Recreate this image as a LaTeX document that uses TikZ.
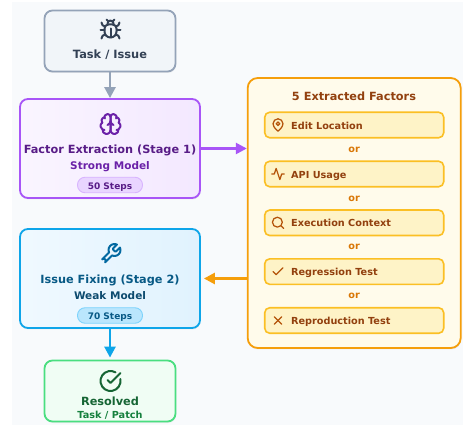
\documentclass[tikz,border=0pt]{standalone}
\usepackage{fontspec}
\setmainfont{DejaVu Sans}
\usetikzlibrary{arrows.meta,shadows,svg.path}
\definecolor{bgc}{HTML}{F8FAFC}
\definecolor{slateB}{HTML}{94A3B8}
\definecolor{slateT}{HTML}{334155}
\definecolor{slateF}{HTML}{F1F5F9}
\definecolor{purB}{HTML}{A855F7}
\definecolor{purT}{HTML}{581C87}
\definecolor{purS}{HTML}{6B21A8}
\definecolor{purA}{HTML}{FAF5FF}
\definecolor{purC}{HTML}{F3E8FF}
\definecolor{purP}{HTML}{E9D5FF}
\definecolor{purQ}{HTML}{D8B4FE}
\definecolor{bluB}{HTML}{0EA5E9}
\definecolor{bluT}{HTML}{075985}
\definecolor{bluS}{HTML}{0C4A6E}
\definecolor{bluI}{HTML}{0369A1}
\definecolor{bluA}{HTML}{F0F9FF}
\definecolor{bluC}{HTML}{E0F2FE}
\definecolor{bluP}{HTML}{BAE6FD}
\definecolor{bluQ}{HTML}{7DD3FC}
\definecolor{grnB}{HTML}{4ADE80}
\definecolor{grnT}{HTML}{166534}
\definecolor{grnS}{HTML}{15803D}
\definecolor{grnF}{HTML}{F0FDF4}
\definecolor{orgB}{HTML}{F59E0B}
\definecolor{orgI}{HTML}{FBBF24}
\definecolor{orgF}{HTML}{FFFBEB}
\definecolor{orgG}{HTML}{FEF3C7}
\definecolor{orgT}{HTML}{92400E}
\definecolor{orgK}{HTML}{B45309}
\definecolor{orgO}{HTML}{D97706}
\newcommand{\fs}[1]{\fontsize{#1}{#1}\selectfont\bfseries}
\newcommand{\icon}[5]{\begin{scope}[shift={(#1,#2)},scale=#3,yscale=-1,xshift=-12pt,yshift=-12pt,draw=#4,line cap=round,line join=round,line width=#3*2pt]#5\end{scope}}
\tikzset{
  x=1pt,y=-1pt,
  softshadow/.style={drop shadow={shadow xshift=0.5pt,shadow yshift=-1.5pt,opacity=0.06,fill=black}},
  card/.style={draw,line width=1.8pt,rounded corners=8pt,inner sep=0pt,softshadow},
  small card/.style={card,minimum width=131pt,minimum height=61pt},
  big card/.style={card,minimum width=180pt,minimum height=99pt},
  pill/.style={draw,line width=0.9pt,rounded corners=7.5pt,minimum width=65pt,minimum height=15.5pt,inner sep=0pt,font=\fs{9},text height=.88em,text depth=0pt},
  factor/.style={draw=orgI,fill=orgG,line width=1.6pt,rounded corners=5pt,minimum width=179pt,minimum height=25.5pt,inner sep=0pt},
  lbl/.style={inner sep=0pt,anchor=center,text height=.73em,text depth=0pt,yshift=-0.6pt},
  factorlabel/.style={lbl,anchor=west,font=\fs{9.7},text=orgT},
  orlabel/.style={inner sep=0pt,font=\fs{9.7},text=orgO,text height=.56em,text depth=0pt},
  conn/.style={line width=2.5pt,-{Triangle[length=11pt,width=11pt]}},
}
\begin{document}
\begin{tikzpicture}
\useasboundingbox (0,0) rectangle (463,427);
\fill[white] (0,0) rectangle (463,427);
\fill[bgc] (12,2.5) rectangle (463,425);

\node[small card,draw=slateB,fill=slateF] (task) at (110,41) {};
\node[big card,draw=purB,left color=purA,right color=purC] (stageone) at (110,148.5) {};
\node[big card,draw=bluB,left color=bluA,right color=bluC] (stagetwo) at (110,278.5) {};
\node[small card,draw=grnB,fill=grnF] (done) at (110,391) {};
\node[card,draw=orgB,fill=orgF,minimum width=213pt,minimum height=270pt,rounded corners=10pt] (panel) at (354.2,213) {};

\node[lbl,font=\fs{11.4},text=slateT] (tasktext) at (110,54.7) {Task / Issue};
\node[lbl,font=\fs{11.3},text=purT] (onetitle) at (110,149) {Factor Extraction (Stage 1)};
\node[lbl,font=\fs{10.5},text=purS] (onemodel) at (110,165) {Strong Model};
\node[pill,draw=purQ,fill=purP,text=purT] (onesteps) at (110,185) {50 Steps};
\node[lbl,font=\fs{11.3},text=bluT] (twotitle) at (110,279) {Issue Fixing (Stage 2)};
\node[lbl,font=\fs{10.5},text=bluS] (twomodel) at (110,295.3) {Weak Model};
\node[pill,draw=bluQ,fill=bluP,text=bluT] (twosteps) at (110,315.5) {70 Steps};
\node[lbl,font=\fs{11.3},text=grnT] (donetext) at (110,401) {Resolved};
\node[lbl,font=\fs{9.7},text=grnS] (donesub) at (110,414) {Task / Patch};

\node[lbl,font=\fs{11.3},text=orgT] (paneltitle) at (354,96) {5 Extracted Factors};
\node[factor] (f1) at (354.2,125) {};
\node[factor] (f2) at (354.2,174) {};
\node[factor] (f3) at (354.2,222.8) {};
\node[factor] (f4) at (354.2,271.6) {};
\node[factor] (f5) at (354.2,320.5) {};
\node[factorlabel] (l1) at (291,125) {Edit Location};
\node[factorlabel] (l2) at (291,174) {API Usage};
\node[factorlabel] (l3) at (291,222.6) {Execution Context};
\node[factorlabel] (l4) at (291,271.7) {Regression Test};
\node[factorlabel] (l5) at (291,320.7) {Reproduction Test};
\node[orlabel] (o1) at (354.2,149.7) {or};
\node[orlabel] (o2) at (354.2,198.3) {or};
\node[orlabel] (o3) at (354.2,246.7) {or};
\node[orlabel] (o4) at (354.2,295.3) {or};

\draw[conn,slateB] (task.south) -- (stageone.north);
\draw[conn,purB] (stageone.east) -- (stageone.east -| panel.west);
\draw[conn,orgB] (stagetwo.east -| panel.west) -- ([xshift=3pt]stagetwo.east);
\draw[conn,bluB] (stagetwo.south) -- ([yshift=2pt]done.north);

% bug
\icon{110.5}{29.5}{1}{slateT}{
\draw svg {M 8 2 L 9.88 3.88};
\draw svg {M 14.12 3.88 L 16 2};
\draw svg {M 9 7.13 L 9 6.13 A 3.003 3.003 0 1 1 15 6.13 L 15 7.13};
\draw svg {M 12 20 C 8.7 20 6 17.3 6 14 L 6 11 A 4 4 0 0 1 10 7 L 14 7 A 4 4 0 0 1 18 11 L 18 14 C 18 17.3 15.3 20 12 20};
\draw svg {M 12 20 L 12 11};
\draw svg {M 6.53 9 C 4.6 8.8 3 7.1 3 5};
\draw svg {M 6 13 L 2 13};
\draw svg {M 3 21 C 3 18.9 4.7 17.1 6.8 17};
\draw svg {M 20.97 5 C 20.97 7.1 19.37 8.8 17.47 9};
\draw svg {M 22 13 L 18 13};
\draw svg {M 17.2 17 C 19.3 17.1 21 18.9 21 21};
}
% brain
\icon{110.5}{124}{1}{purS}{
\draw svg {M 12 5 A 3 3 0 1 0 6.003 5.125 A 4 4 0 0 0 3.477 10.895 A 4 4 0 0 0 4.033 17.483 A 4 4 0 1 0 12 18 Z};
\draw svg {M 12 5 A 3 3 0 1 1 17.997 5.125 A 4 4 0 0 1 20.523 10.895 A 4 4 0 0 1 19.967 17.483 A 4 4 0 1 1 12 18 Z};
\draw svg {M 15 13 A 4.5 4.5 0 0 1 12 9 A 4.5 4.5 0 0 1 9 13};
\draw svg {M 17.599 6.5 A 3 3 0 0 0 17.998 5.125};
\draw svg {M 6.003 5.125 A 3 3 0 0 0 6.401 6.5};
\draw svg {M 3.477 10.896 A 4 4 0 0 1 4.062 10.5};
\draw svg {M 19.938 10.5 A 4 4 0 0 1 20.523 10.896};
\draw svg {M 6 18 A 4 4 0 0 1 4.033 17.484};
\draw svg {M 19.967 17.484 A 4 4 0 0 1 18 18};
}
% wrench
\icon{110.5}{254}{1}{bluI}{
\draw svg {M 14.7 6.3 A 1 1 0 0 0 14.7 7.7 L 16.3 9.3 A 1 1 0 0 0 17.7 9.3 L 21.47 5.53 A 6 6 0 0 1 13.53 13.47 L 6.62 20.38 A 2.12 2.12 0 0 1 3.62 17.38 L 10.53 10.47 A 6 6 0 0 1 18.47 2.53 L 14.71 6.29 Z};
}
% circle check
\icon{110.5}{381}{1}{grnT}{
\draw svg {M 21.801 10 A 10 10 0 1 1 17 3.335};
\draw svg {M 9 11 L 12 14 L 22 4};
}
% small icons
\icon{278}{125}{0.62}{orgK}{
\draw svg {M 20 10 C 20 16 12 22 12 22 C 12 22 4 16 4 10 A 8 8 0 0 1 20 10 Z};
\draw svg {M 15 10 A 3 3 0 1 1 9 10 A 3 3 0 1 1 15 10 Z};
}
\icon{278}{174}{0.62}{orgK}{
\draw svg {M 22 12 L 18 12 L 15 21 L 9 3 L 6 12 L 2 12};
}
\icon{278}{222.8}{0.62}{orgK}{
\draw svg {M 19 11 A 8 8 0 1 1 3 11 A 8 8 0 1 1 19 11 Z};
\draw svg {M 21 21 L 16.7 16.7};
}
\icon{278}{271.6}{0.62}{orgK}{
\draw svg {M 20 6 L 9 17 L 4 12};
}
\icon{278}{320.5}{0.62}{orgK}{
\draw svg {M 18 6 L 6 18};
\draw svg {M 6 6 L 18 18};
}
\end{tikzpicture}
\end{document}
